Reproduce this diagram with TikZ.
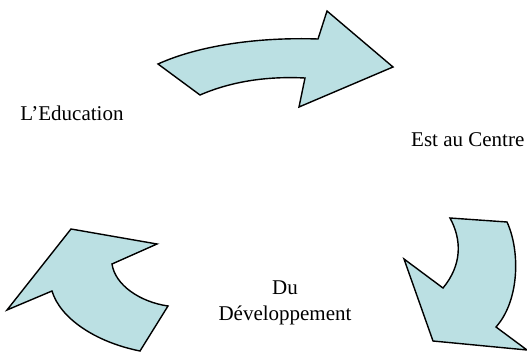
\documentclass[tikz,border=0pt]{standalone}
\usepackage{fontspec}
\setmainfont{Liberation Serif}
\usepackage{tikz}
\usetikzlibrary{positioning}
\definecolor{flecheblue}{RGB}{187,224,227}

\begin{document}
\begin{tikzpicture}[x=1pt,y=-1pt,node distance=25pt,on grid,
	fleche/.style={fill=flecheblue,draw=black,line width=1.4pt,line join=miter},
	mot/.style={font=\fontsize{21}{25}\selectfont,inner sep=0pt,text height=15pt,text depth=5pt}]
	     \useasboundingbox (0,0) rectangle (527,352);

	     \node[mot] (edu) at (72,116) {L’Education};
	     \node[mot,anchor=west] (centre) at (411,142) {Est au Centre};
	     \node[mot] (du) at (285,290) {Du};
	     \node[mot] (dev) [below=of du] {Développement};

	     \filldraw[fleche] (158,64) .. controls (200,45) and (260,37) .. (318,39) -- (327,11) -- (393,67) -- (299,107) -- (305,78)
	       .. controls (265,76) and (230,82) .. (200,95) -- cycle;
	     \filldraw[fleche] (71,229) -- (157,244) -- (112,264) .. controls (115,285) and (140,302) .. (168,306) -- (140,351)
	       .. controls (95,342) and (60,318) .. (52,291) -- (7,310) -- cycle;
	     \filldraw[fleche] (450,218) -- (507,222) .. controls (520,250) and (520,300) .. (496,327) -- (527,350) -- (433,341)
	       -- (404,259) -- (443,288) .. controls (462,265) and (462,240) .. cycle;
\end{tikzpicture}
\end{document}
